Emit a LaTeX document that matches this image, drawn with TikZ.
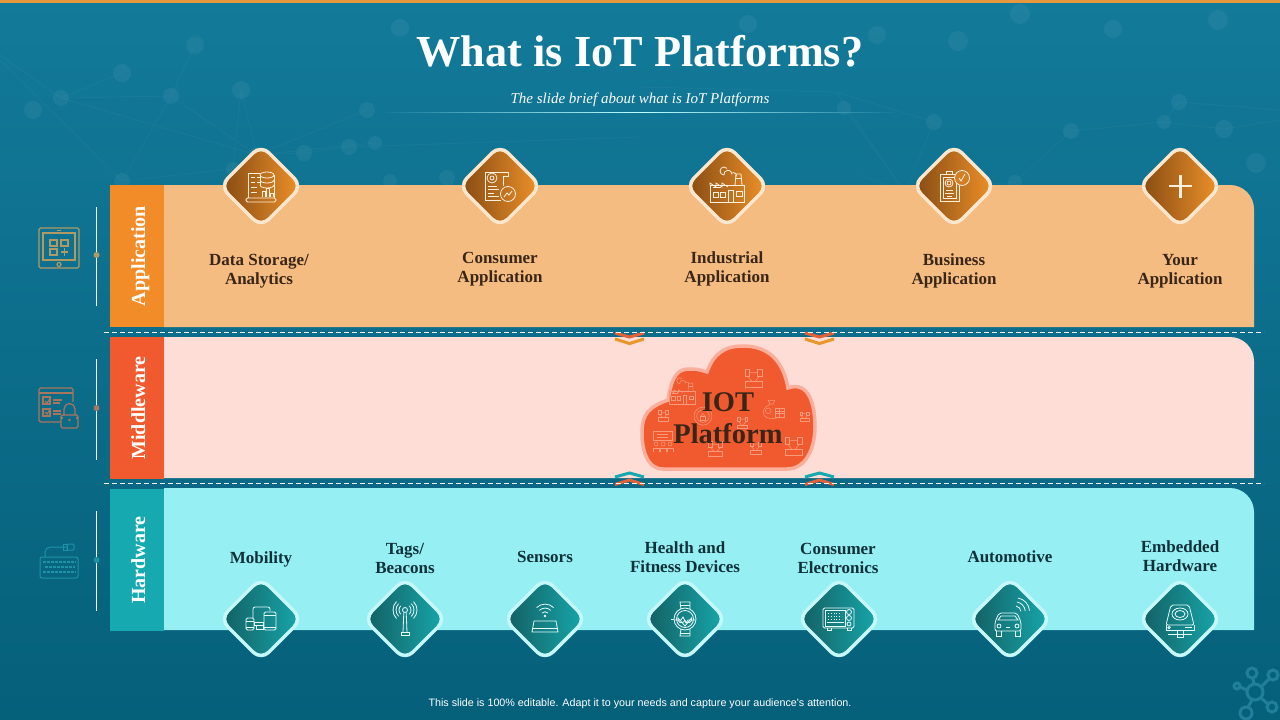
\documentclass[tikz,border=0pt]{standalone}
\usepackage{fontspec}
\setmainfont{Liberation Serif}
\newfontfamily\footfont{Liberation Sans}
\definecolor{bgtop}{HTML}{137A9A}
\definecolor{bgbottom}{HTML}{05607A}
\definecolor{topbar}{HTML}{E8983E}
\definecolor{appdark}{HTML}{F28C28}
\definecolor{applight}{HTML}{F5BC82}
\definecolor{middark}{HTML}{F15A2F}
\definecolor{midlight}{HTML}{FDDDD5}
\definecolor{hwdark}{HTML}{17A9B0}
\definecolor{hwlight}{HTML}{96EFF2}
\definecolor{inkapp}{HTML}{3A2618}
\definecolor{inkhw}{HTML}{10303A}
\definecolor{appgrada}{HTML}{844A12}
\definecolor{appgradb}{HTML}{F0922A}
\definecolor{hwgrada}{HTML}{135E62}
\definecolor{hwgradb}{HTML}{17A8AC}
\definecolor{appedge}{HTML}{FBE6CE}
\definecolor{hwedge}{HTML}{C6F7F9}
\definecolor{bgcheck}{HTML}{D27F25}
\definecolor{iconapp}{HTML}{FFF1DE}
\definecolor{iconhw}{HTML}{E6FCFD}
\definecolor{cloudicon}{HTML}{F89A7E}
\definecolor{cloudedge}{HTML}{FBAE9C}
\definecolor{hubblue}{HTML}{217F9B}
\definecolor{sideapp}{HTML}{AE9A62}
\definecolor{sidemid}{HTML}{A8755F}
\definecolor{sidehw}{HTML}{1E93A5}
\definecolor{chevred}{HTML}{E0613A}
\definecolor{chevorange}{HTML}{E8952B}
\tikzset{
  x=1pt,y=-1pt,
  sidebox/.style={rotate=90,minimum width=142pt,minimum height=54pt,inner sep=0pt,text height=16pt,text depth=0pt,text=white,font=\fontsize{20}{20}\selectfont\bfseries},
  diamondbox/.style={rectangle,rotate=45,minimum size=58pt,rounded corners=11pt,line width=3.5pt,draw=#1},
  diamondapp/.style={diamondbox=appedge,left color=appgrada,right color=appgradb},
  diamondhw/.style={diamondbox=hwedge,left color=hwgrada,right color=hwgradb},
  itemlabel/.style={align=center,font=\fontsize{17}{19}\selectfont\bfseries},
  dashline/.style={white,line width=.8pt,dash pattern=on 5pt off 3pt},
  sideline/.style={white,line width=1pt},
  chevron/.style={line width=3pt},
  netline/.style={white,opacity=.035,line width=.8pt},
  netdot/.style={white,opacity=.05},
  iconline/.style={line width=.8pt},
  iconstorage/.pic={
    \draw (-13,12) -- (-13,-13) -- (-1,-13);
    \draw (-10,-9) -- (-6,-9) (-4,-9) -- (-1,-9) (-10,-4) -- (-6,-4) (-4,-4) -- (-1,-4) (-10,1) -- (-4,1) (-10,6) -- (-4,6);
    \draw (6,-11) ellipse[x radius=7,y radius=3];
    \draw (-1,-11) -- (-1,0) (13,-11) -- (13,12);
    \draw (-1,-6) arc[start angle=180,end angle=0,x radius=7,y radius=3];
    \draw (-1,-1) arc[start angle=180,end angle=0,x radius=7,y radius=3];
    \draw (1,11) -- (1,5) -- (4,5) -- (4,11) (5,11) -- (5,2) -- (8,2) -- (8,11) (9,11) -- (9,7) -- (12,7) -- (12,11);
    \draw[rounded corners=1.5pt] (-15,12) rectangle (15,16);
  },
  iconreceipt/.pic={
    \draw (-15,14) -- (-15,-14) -- (8,-14) -- (8,-10) -- (3,-10) -- (3,0);
    \draw (-15,14) -- (1,14);
    \draw (-8,-8) circle[radius=5];
    \draw (-8,-8) circle[radius=2];
    \draw (-12,0) -- (-3,0) (-12,3) -- (-1,3) (-12,7) -- (-6,7) (-12,10) -- (-1,10);
    \draw (8,8) circle[radius=7.5];
    \draw (4,11) -- (7,7) -- (9,9) -- (12,5);
  },
  iconfactory/.pic={
    \draw (-17,16) rectangle (17,-1);
    \draw (-17,-1) -- (-17,-3) -- (-11,1) -- (-11,-3) -- (-5,1) -- (-5,-3) -- (1,1);
    \draw (8,-1) -- (9,-12) -- (14,-12) -- (15,-1);
    \draw (9,-8) -- (14,-8);
    \draw (-3,-11) arc[start angle=90,end angle=320,radius=4] (-3,-11) arc[start angle=170,end angle=360,radius=4];
    \draw (5,-13) arc[start angle=240,end angle=380,radius=3];
    \draw (-14,6) rectangle (-9,11) (-7,6) rectangle (-2,11) (1,4) rectangle (6,16) (9,5) rectangle (15,10);
    \draw (-14,1) -- (-6,1);
  },
  iconbusiness/.pic={
    \draw (-14,-12) rectangle (5,15);
    \draw (-11,-9) rectangle (2,12);
    \draw (-8,-12) rectangle (-2,-15);
    \draw (-5,-3) circle[radius=4];
    \draw (-5,-3) circle[radius=2];
    \draw (-8,4) -- (-1,4) (-9,7) -- (0,7) (-7,10) -- (-2,10);
    \fill[color=bgcheck] (8,-8) circle[radius=7.5];
    \draw (8,-8) circle[radius=7.5];
    \draw (5,-8) -- (7,-5) -- (11,-12);
  },
  iconmobility/.pic={
    \draw[rounded corners=2pt] (-8,-1) -- (-8,-12) -- (9,-12) -- (9,-8);
    \draw (-7,3) rectangle (2,6);
    \draw (-5,6) rectangle (2,10);
    \draw[rounded corners=1.5pt] (3,-7) rectangle (15,11);
    \draw (3,-4) -- (15,-4) (3,8) -- (15,8);
    \draw[rounded corners=1.5pt] (-15,-1) rectangle (-7,11);
    \draw (-15,2) -- (-7,2) (-15,8) -- (-7,8);
  },
  icontower/.pic={
    \draw (0,-9) circle[radius=2.5];
    \draw (-1.2,-6.5) -- (-2,13) (1.2,-6.5) -- (2,13);
    \draw (-4,16) rectangle (4,13);
    \draw (-4.24,-4.76) arc[start angle=135,end angle=225,radius=6];
    \draw (-6.36,-2.64) arc[start angle=135,end angle=225,radius=9];
    \draw (-8.49,-.51) arc[start angle=135,end angle=225,radius=12];
    \draw (4.24,-13.24) arc[start angle=-45,end angle=45,radius=6];
    \draw (6.36,-15.36) arc[start angle=-45,end angle=45,radius=9];
    \draw (8.49,-17.49) arc[start angle=-45,end angle=45,radius=12];
  },
  iconrouter/.pic={
    \fill (0,-3) circle[radius=1.3];
    \draw (-13,13) -- (13,13) -- (11,2) -- (-11,2) -- cycle;
    \draw (-12,9) -- (12,9);
    \draw (-3,-6) arc[start angle=225,end angle=315,radius=4.2];
    \draw (-5.6,-8.6) arc[start angle=225,end angle=315,radius=8];
    \draw (-8.4,-11.4) arc[start angle=225,end angle=315,radius=12];
  },
  iconwatch/.pic={
    \draw (0,0) circle[radius=11];
    \draw (0,0) circle[radius=8.5];
    \draw (-4,-10) -- (-5,-17) -- (5,-17) -- (5,-10);
    \draw (-4,10) -- (-5,17) -- (5,17) -- (5,10);
    \draw (-5,-14) -- (5,-14) (-5,14) -- (5,14);
    \draw (-14,0) -- (-11,0);
    \draw (0,7) -- (-7,-1) arc[start angle=200,end angle=20,radius=3.6] arc[start angle=160,end angle=-20,radius=3.6] -- cycle;
    \draw (-10,1) -- (-4,1) -- (-2,-2) -- (1,4) -- (3,1) -- (10,1);
  },
  iconoven/.pic={
    \draw[rounded corners=1.5pt] (-16,-11) rectangle (15,9);
    \draw (-14,-9) rectangle (6,7);
    \draw[dotted] (-11,-6) -- (3,-6) (-11,-3) -- (3,-3) (-11,0) -- (3,0);
    \draw (-12,3) -- (5,3);
    \draw (10,-7) circle[radius=2.5] (10,-1) circle[radius=2.5] (10,5) circle[radius=2];
    \draw (-12,9) -- (-12,11) -- (-8,11) -- (-8,9) (8,9) -- (8,11) -- (12,11) -- (12,9);
  },
  iconcar/.pic={
    \draw[rounded corners=2pt] (-15,12) -- (-15,3) -- (-11,-6) -- (7,-6) -- (11,3) -- (11,12) -- cycle;
    \draw (-12,1) -- (-9,-3) -- (5,-3) -- (8,1) -- cycle;
    \draw (-11,7) circle[radius=2] (7,7) circle[radius=2];
    \draw (-4,8) -- (0,8);
    \draw (-14,12) -- (-14,17) -- (-9,17) -- (-9,12) (5,12) -- (5,17) -- (10,17) -- (10,12);
    \draw (6,-13) arc[start angle=-80,end angle=-5,radius=6];
    \draw (7,-17) arc[start angle=-80,end angle=-5,radius=10];
    \draw (8,-21) arc[start angle=-80,end angle=-5,radius=14];
  },
  icondisk/.pic={
    \draw[rounded corners=2pt] (-14,6) -- (-9,-14) -- (9,-14) -- (14,6) -- cycle;
    \draw (-14,6) -- (-14,11) -- (14,11) -- (14,6);
    \draw (0,-5) ellipse[x radius=8,y radius=6];
    \draw (0,-5) ellipse[x radius=5,y radius=3.5];
    \draw (-11,8.5) circle[radius=1.2];
    \draw (5,8) -- (12,8);
    \draw (-12,15) -- (12,15) (-3,11) -- (-3,18) -- (3,18) -- (3,11);
  },
  iconhubmol/.pic={
    \draw (-7,-7) rectangle (-3,-1) (4,-7) rectangle (8,-1) (-7,4) rectangle (8,9);
    \draw (-5,-1) -- (-1,4) (6,-1) -- (2,4) (-3,-4) -- (4,-4);
  },
  iconbag/.pic={
    \draw (-4,-8) -- (3,-8) -- (1,-4) -- (-2,-4) -- cycle;
    \draw (-2,-4) .. controls (-14,2) and (-10,12) .. (1,11) .. controls (3,11) and (4,11) .. (4,10);
    \draw (3,0) rectangle (13,10);
    \draw (3,3) -- (13,3) (3,6) -- (13,6) (8,0) -- (8,10);
    \draw (-4,3) circle[radius=3];
  },
  iconpeople/.pic={
    \draw (-10,-9) rectangle (9,0);
    \draw (-6,-6) -- (5,-6) (-6,-3) -- (5,-3);
    \draw (-7,4) circle[radius=2] (0,4) circle[radius=2] (7,4) circle[radius=2];
    \draw (-10,12) -- (-10,8) -- (-4,8) -- (-4,12) (-3,12) -- (-3,8) -- (3,8) -- (3,12) (4,12) -- (4,8) -- (10,8) -- (10,12);
  },
  iconshield/.pic={
    \draw (0,-1) circle[radius=10];
    \draw (0,-1) circle[radius=7];
    \draw (-3,4) rectangle (3,-1);
    \draw (-2,-1) -- (0,-4) -- (2,-1);
  },
  icontablet/.pic={
    \draw[rounded corners=1.5pt] (-20,-20) rectangle (20,20);
    \draw (-16,-15) rectangle (16,12);
    \draw (-9,-8) rectangle (-2,-2) (2,-8) rectangle (9,-2) (-9,1) rectangle (-2,7);
    \draw (5.5,0) -- (5.5,8) (2,4) -- (9,4);
    \draw (0,16.5) circle[radius=2];
    \draw (-2,-17.5) -- (2,-17.5);
  },
  iconlock/.pic={
    \draw[rounded corners=1.5pt] (3,14) -- (-19,14) -- (-19,-20) -- (15,-20) -- (15,-6);
    \draw (-19,-15) -- (15,-15);
    \draw (-15,-11) rectangle (-8,-4) (-15,1) rectangle (-8,8);
    \draw (-13,-7) -- (-11,-5) -- (-7,-11) (-13,4) -- (-11,6) -- (-7,0);
    \draw (-5,-8) -- (4,-8) (-5,-5) -- (2,-5) (-5,3) -- (3,3) (-5,6) -- (3,6);
    \draw[rounded corners=1.5pt] (3,7) rectangle (20,20);
    \draw (6,7) -- (6,1) arc[start angle=180,end angle=360,radius=5.5] -- (17,7);
    \draw (3,10) -- (5,10) (18,10) -- (20,10);
    \fill (11.5,12) circle[radius=1.3];
  },
  iconkeyboard/.pic={
    \draw[rounded corners=2pt] (-19,-4) rectangle (19,17);
    \draw[dash pattern=on 2.5pt off 1.5pt,line width=2pt] (-16,1) -- (17,1);
    \draw[dash pattern=on 2.5pt off 1.5pt,line width=2pt] (-14,6) -- (16,6);
    \draw[dash pattern=on 2.5pt off 1.5pt,line width=2pt] (-16,11) -- (17,11);
    \draw (-14,-4) -- (-14,-9) to[out=90,in=180] (-8,-14) -- (8,-14);
    \draw[rounded corners=1pt] (8,-17) rectangle (15,-11);
    \draw (8,-17) rectangle (4,-11);
  },
}
\begin{document}
\begin{tikzpicture}
  \useasboundingbox (0,0) rectangle (1280,720);
  \shade[top color=bgtop,bottom color=bgbottom] (0,0) rectangle (1280,720);
  \fill[topbar] (0,0) rectangle (1280,3);
  % faint network behind the title
  \draw[netline] (0,55) -- (61,98) -- (257,155) -- (367,110) (61,98) -- (171,96) -- (257,155) -- (241,90) (0,60) -- (122,181) -- (233,169) -- (257,155) -- (304,153) -- (349,147) -- (640,137) (122,73) -- (61,98) (171,96) -- (122,181) (195,45) -- (171,96) (233,169) -- (241,90) (375,143) -- (257,155);
  \draw[netline] (640,87) -- (836,92) -- (905,192) -- (844,108) (836,92) -- (934,122) -- (905,192) -- (1015,182) (905,192) -- (860,175) (1071,131) -- (1164,122) -- (1224,129) -- (1280,120) (1179,102) -- (1164,122) (1071,131) -- (1015,182) (1179,102) -- (1280,110);
  \fill[netdot] (61,98) circle[radius=8] (171,96) circle[radius=8] (122,73) circle[radius=9] (195,45) circle[radius=9] (241,90) circle[radius=9] (33,110) circle[radius=9] (257,155) circle[radius=8] (233,169) circle[radius=7] (122,181) circle[radius=8] (304,153) circle[radius=8] (349,147) circle[radius=8] (367,110) circle[radius=8] (400,28) circle[radius=9] (375,143) circle[radius=7] (390,181) circle[radius=7] (447,178) circle[radius=8] (748,24) circle[radius=9] (877,35) circle[radius=9] (958,41) circle[radius=10] (1020,14) circle[radius=10] (1113,29) circle[radius=9] (1218,20) circle[radius=10] (1179,102) circle[radius=8] (1164,122) circle[radius=7] (1071,131) circle[radius=8] (1224,129) circle[radius=9] (934,122) circle[radius=8] (844,108) circle[radius=7] (905,192) circle[radius=7] (1015,182) circle[radius=7] (1154,178) circle[radius=7] (1256,163) circle[radius=10];
  % hub in the corner
  \draw[color=hubblue,line width=3pt] (1255,692) circle[radius=8] (1252,673) circle[radius=5] (1273,675) circle[radius=5] (1237,686) circle[radius=3] (1272,707) circle[radius=5] (1246,713) circle[radius=6];
  \draw[color=hubblue,line width=3pt] (1254,684) -- (1253,678) (1261,687) -- (1269,679) (1247,690) -- (1240,687) (1261,698) -- (1268,704) (1252,700) -- (1248,707);

  \node (title) at (640,51) [text=white,font=\fontsize{44.3}{45}\selectfont\bfseries] {What is IoT Platforms?};
  \node (subtitle) at (640,99.5) [text=white,font=\fontsize{15}{15}\selectfont\itshape] {The slide brief about what is IoT Platforms};
  \shade[left color=bgtop,right color=bgtop,middle color=white!75!cyan] (385,112) rectangle (895,112.8);

  % bands
  \fill[applight] (164,327) -- (164,185) [rounded corners=24pt] -- (1254,185) [sharp corners] -- (1254,327) -- cycle;
  \fill[midlight] (164,478) -- (164,337) [rounded corners=24pt] -- (1254,337) [sharp corners] -- (1254,478) -- cycle;
  \fill[hwlight] (164,630) -- (164,488) [rounded corners=24pt] -- (1254,488) [sharp corners] -- (1254,630) -- cycle;
  \node (application) at (137,256) [sidebox,fill=appdark] {Application};
  \node (middleware) at (137,408) [sidebox,fill=middark] {Middleware};
  \node (hardware) at (137,560) [sidebox,fill=hwdark] {Hardware};

  % side marks
  \draw[sideline] (96.5,207) -- (96.5,306);
  \draw[sideline] (96.5,359) -- (96.5,460);
  \draw[sideline] (96.5,511) -- (96.5,611);
  \fill[color=sideapp] (96.5,255) circle[radius=3];
  \fill[color=sidemid] (96.5,408) circle[radius=3];
  \fill[color=sidehw] (96.5,560) circle[radius=3];
  \pic[color=sideapp,line width=1.2pt] at (59,248) {icontablet};
  \pic[color=sidemid,line width=1.2pt] at (58,408) {iconlock};
  \pic[color=sidehw,line width=1pt] at (59,561) {iconkeyboard};

  % chevrons and dashed rules
  \draw[chevron,color=chevred] (615,333) -- (629.5,337) -- (644,333);
  \draw[chevron,color=chevorange] (615,339) -- (629.5,343.5) -- (644,339);
  \draw[chevron,color=chevred] (805,333) -- (819.5,337) -- (834,333);
  \draw[chevron,color=chevorange] (805,339) -- (819.5,343.5) -- (834,339);
  \draw[chevron,color=hwdark] (615,477) -- (629.5,473) -- (644,477);
  \draw[chevron,color=chevred] (615,484.5) -- (629.5,480) -- (644,484.5);
  \draw[chevron,color=hwdark] (805,477) -- (819.5,473) -- (834,477);
  \draw[chevron,color=chevred] (805,484.5) -- (819.5,480) -- (834,484.5);
  \draw[dashline] (104,332) -- (1264,332);
  \draw[dashline] (104,483) -- (1264,483);

  % cloud
  \draw[fill=middark,draw=cloudedge,line width=3.5pt] (663,469) to[out=180,in=-90] (642,433) to[out=90,in=200,looseness=1.2] (668,400) to[out=80,in=180] (688,369) to[out=0,in=160] (707,372) to[out=70,in=180,looseness=1.1] (743,346) to[out=0,in=100,looseness=1.1] (788,388) to[out=20,in=90,looseness=1.2] (815,427) to[out=-90,in=0] (787,469) -- cycle;
  \begin{scope}[color=cloudicon,line width=.5pt]
    \pic[scale=.75] at (682,392) {iconfactory};
    \pic[scale=1.1] at (753,377) {iconhubmol};
    \pic[scale=.95] at (772,408) {iconbag};
    \pic[scale=.9] at (703,417) {iconshield};
    \pic[scale=.65] at (663,415) {iconhubmol};
    \pic[scale=1] at (663,440) {iconpeople};
    \pic[scale=.9] at (715,448) {iconhubmol};
    \pic[scale=.7] at (742,422) {iconhubmol};
    \pic[scale=.75] at (755,447) {iconhubmol};
    \pic[scale=1.1] at (793,445) {iconhubmol};
    \pic[scale=.6] at (804,416) {iconhubmol};
  \end{scope}
  \node (iot) at (728,418) [align=center,text=inkapp,font=\fontsize{28.5}{32}\selectfont\bfseries] {IOT\\Platform};

  % top row
  \node (storage) at (261,186) [diamondapp] {};
  \node (consumerapp) at (500,186) [diamondapp] {};
  \node (industrial) at (727,186) [diamondapp] {};
  \node (business) at (954,186) [diamondapp] {};
  \node (yourapp) at (1180,186) [diamondapp] {};
  \pic[color=iconapp,iconline] at (storage) {iconstorage};
  \pic[color=iconapp,iconline] at (consumerapp) {iconreceipt};
  \pic[color=iconapp,iconline] at (industrial) {iconfactory};
  \pic[color=iconapp,iconline] at (business) {iconbusiness};
  \draw[color=iconapp,line width=2.6pt] (1169,186) -- (1192,186) (1180.5,175) -- (1180.5,198);
  \node[itemlabel,text=inkapp] at (259,271) {Data Storage/\\Analytics};
  \node[itemlabel,text=inkapp] at (500,269) {Consumer\\Application};
  \node[itemlabel,text=inkapp] at (727,269) {Industrial\\Application};
  \node[itemlabel,text=inkapp] at (954,271) {Business\\Application};
  \node[itemlabel,text=inkapp] at (1180,271) {Your\\Application};

  % bottom row
  \node (mobility) at (261,619) [diamondhw] {};
  \node (tags) at (405,619) [diamondhw] {};
  \node (sensors) at (545,619) [diamondhw] {};
  \node (health) at (685,619) [diamondhw] {};
  \node (electronics) at (839,619) [diamondhw] {};
  \node (automotive) at (1010,619) [diamondhw] {};
  \node (embedded) at (1180,619) [diamondhw] {};
  \pic[color=iconhw,iconline] at (mobility) {iconmobility};
  \pic[color=iconhw,iconline] at (tags) {icontower};
  \pic[color=iconhw,iconline] at (sensors) {iconrouter};
  \pic[color=iconhw,iconline] at (health) {iconwatch};
  \pic[color=iconhw,iconline] at (electronics) {iconoven};
  \pic[color=iconhw,iconline] at (automotive) {iconcar};
  \pic[color=iconhw,iconline] at (embedded) {icondisk};
  \node[itemlabel,text=inkhw] at (261,559) {Mobility};
  \node[itemlabel,text=inkhw] at (405,558) {Tags/\\Beacons};
  \node[itemlabel,text=inkhw] at (545,557) {Sensors};
  \node[itemlabel,text=inkhw] at (685,557) {Health and\\Fitness Devices};
  \node[itemlabel,text=inkhw] at (838,558) {Consumer\\Electronics};
  \node[itemlabel,text=inkhw] at (1010,557) {Automotive};
  \node[itemlabel,text=inkhw] at (1180,556) {Embedded\\Hardware};

  \node (footer) at (640,704) [text=white,font=\fontsize{10.73}{10.73}\selectfont\footfont] {This slide is 100\% editable.  Adapt it to your needs and capture your audience's attention.};
\end{tikzpicture}
\end{document}
